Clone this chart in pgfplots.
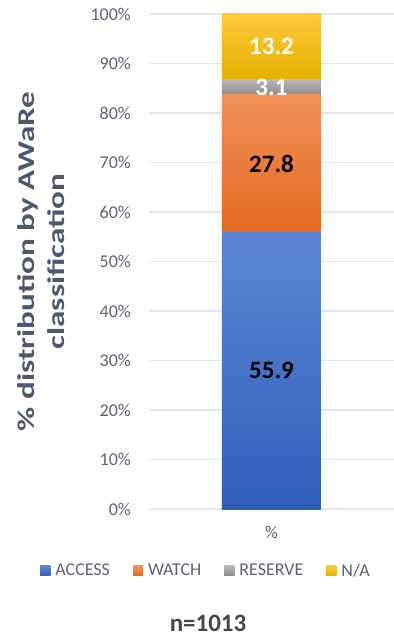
\documentclass[border=0pt]{standalone}
\usepackage{pgfplots}
\pgfplotsset{compat=1.18}
\usepackage{fontspec}
\setmainfont{Carlito}
\definecolor{accTop}{HTML}{5B87D5}
\definecolor{accBot}{HTML}{2F5EB9}
\definecolor{watTop}{HTML}{F0915A}
\definecolor{watBot}{HTML}{E4691F}
\definecolor{resTop}{HTML}{B8B8B8}
\definecolor{resBot}{HTML}{8C8C8C}
\definecolor{naTop}{HTML}{FFCA3A}
\definecolor{naBot}{HTML}{E3B000}
\definecolor{accL}{HTML}{4472C4}
\definecolor{watL}{HTML}{ED7D31}
\definecolor{resL}{HTML}{A5A5A5}
\definecolor{naL}{HTML}{FFC000}
\definecolor{tickc}{HTML}{5A6475}
\definecolor{labc}{HTML}{4A596F}
\definecolor{gridc}{HTML}{E3E7EC}
\begin{document}
\begin{tikzpicture}[x=1pt,y=1pt]
\path[use as bounding box] (0,0) rectangle (394,638);
\begin{axis}[
  at={(149pt,129pt)}, anchor=south west,
  scale only axis, width=245pt, height=495pt,
  ybar stacked, bar width=99pt,
  xmin=-0.5, xmax=0.5, ymin=0, ymax=100,
  xtick={0}, xticklabels={\%},
  ytick={0,10,...,100},
  yticklabel={\pgfmathprintnumber{\tick}\%},
  /pgf/number format/assume math mode=true,
  ymajorgrids, grid style={gridc, line width=1.2pt},
  axis line style={draw=none},
  major tick length=0pt,
  tick label style={font=\fontsize{18}{18}\selectfont, text=tickc},
  yticklabel style={anchor=east, inner sep=0pt, xshift=-18pt},
  xticklabel style={anchor=north, inner sep=0pt, yshift=-17pt},
  ylabel={\% distribution by AWaRe\\classification},
  ylabel style={at={(axis description cs:-0.441,0.5)}, anchor=center, align=center,
    inner sep=0pt, xscale=1.38, font=\fontsize{24}{30}\selectfont\bfseries, text=labc},
  xlabel={n=1013},
  xlabel style={at={(axis description cs:0.241,-0.232)}, anchor=center, inner sep=0pt,
    font=\fontsize{25}{25}\selectfont\bfseries, text=black!72},
  legend columns=4,
  legend style={at={(axis description cs:0.233,-0.125)}, anchor=center, draw=none,
    font=\fontsize{18}{18}\selectfont, text=tickc, inner sep=0pt,
    /tikz/every odd column/.append style={column sep=3pt},
    /tikz/every even column/.append style={column sep=21pt}},
  legend cell align=left,
]
\addplot[draw=none, top color=accTop, bottom color=accBot,
  legend image code/.code={\fill[accL] (0pt,-5pt) rectangle (10pt,5pt);}]
  coordinates {(0,55.9)};
\addlegendentry{ACCESS}
\addplot[draw=none, top color=watTop, bottom color=watBot,
  legend image code/.code={\fill[watL] (0pt,-5pt) rectangle (10pt,5pt);}]
  coordinates {(0,27.8)};
\addlegendentry{WATCH}
\addplot[draw=none, top color=resTop, bottom color=resBot,
  legend image code/.code={\fill[resL] (0pt,-5pt) rectangle (10pt,5pt);}]
  coordinates {(0,3.1)};
\addlegendentry{RESERVE}
\addplot[draw=none, top color=naTop, bottom color=naBot,
  legend image code/.code={\fill[naL] (0pt,-5pt) rectangle (10pt,5pt);}]
  coordinates {(0,13.2)};
\addlegendentry{N/A}
\end{axis}
\begin{axis}[
  at={(149pt,129pt)}, anchor=south west,
  scale only axis, width=245pt, height=495pt,
  xmin=-0.5, xmax=0.5, ymin=0, ymax=100,
  axis lines=none,
  nodes near coords, point meta=explicit symbolic,
  every node near coord/.append style={anchor=center, font=\fontsize{25}{25}\selectfont\bfseries},
]
\addplot[only marks, mark=none, nodes near coords style={text=black}]
  coordinates {(0,27.95)[55.9] (0,69.8)[27.8]};
\addplot[only marks, mark=none, nodes near coords style={text=white}]
  coordinates {(0,85.25)[3.1] (0,93.4)[13.2]};
\end{axis}
\end{tikzpicture}
\end{document}
